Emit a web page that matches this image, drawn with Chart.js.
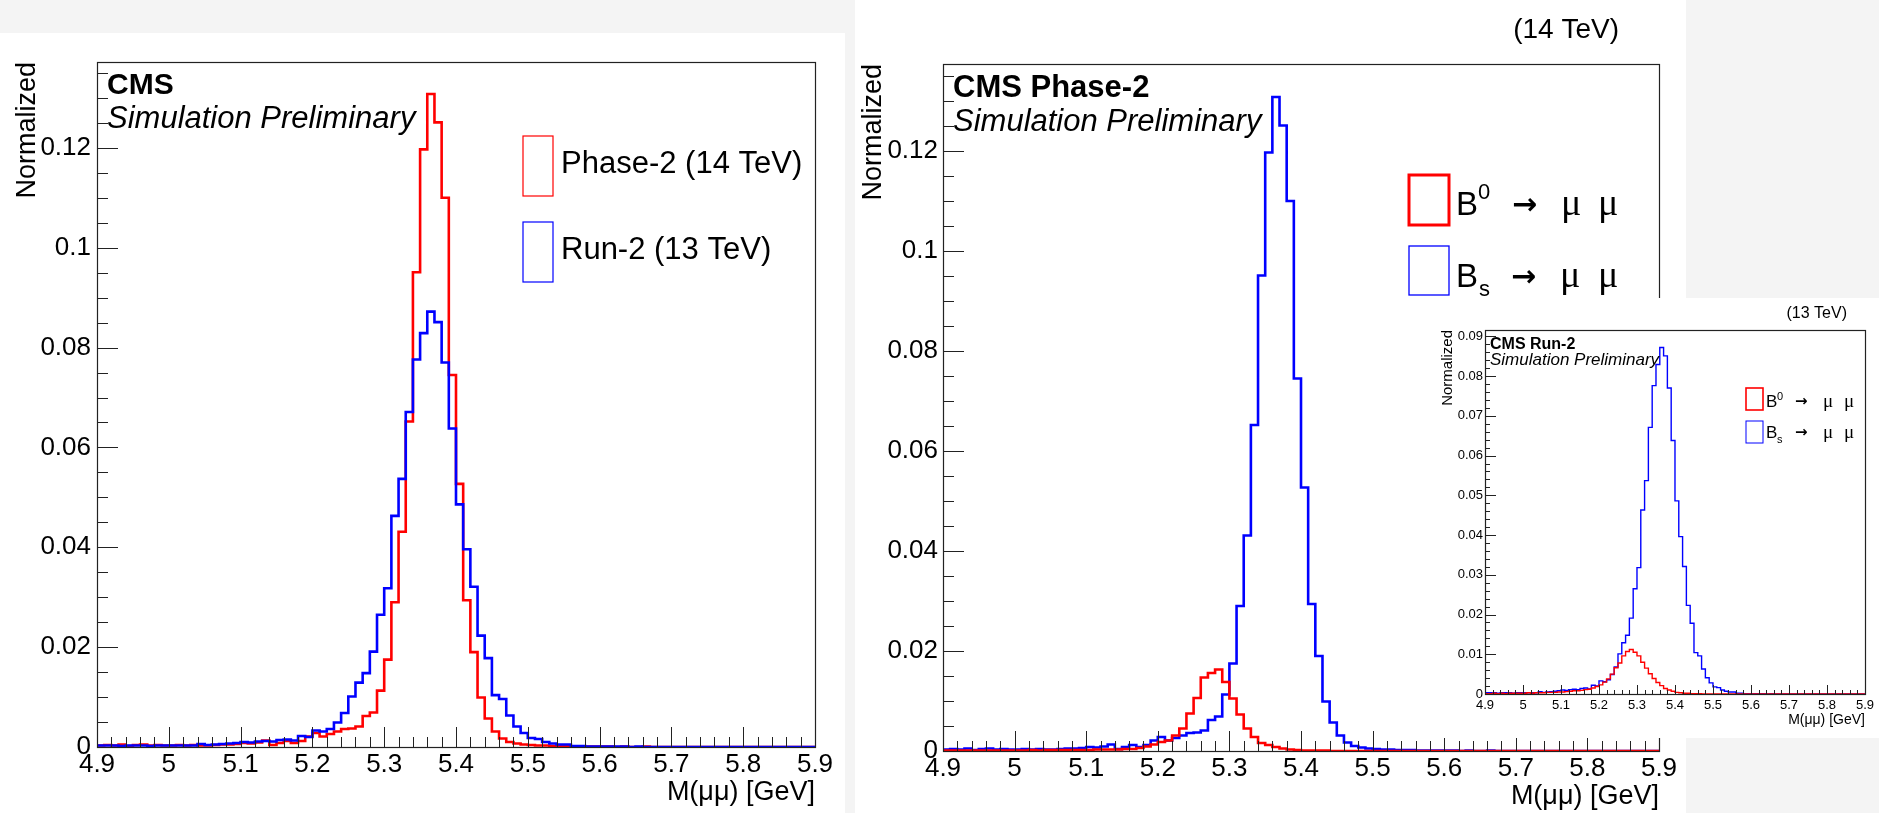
<!DOCTYPE html>
<html>
<head>
<meta charset="utf-8">
<script src="https://cdn.jsdelivr.net/npm/chart.js@4.4.1/dist/chart.umd.min.js"></script>
<style>
  html, body { margin: 0; padding: 0; }
  body { width: 1879px; height: 813px; background: #f4f4f4; position: relative; overflow: hidden; }
  .pad { position: absolute; background: #fff; }
  .pad canvas { display: block; }
</style>
</head>
<body>
<div class="pad" style="left:0;top:33px;width:845px;height:780px"><canvas id="c1" width="845" height="780"></canvas></div>
<div class="pad" style="left:855px;top:0;width:831px;height:813px"><canvas id="c2" width="831" height="813"></canvas></div>
<div class="pad" style="left:1395px;top:298px;width:484px;height:440px"><canvas id="c3" width="484" height="440"></canvas></div>
<script>
// binning: 100 bins of 0.01 GeV from 4.9 to 5.9
const xLow = 4.9;
const xHigh = 5.9;
const binWidth = 0.01;

// normalized M(mumu) histograms, one value per bin
const phase2Bs = [
  0.0003,0.0004,0.0003,0.0005,0.0002,0.0004,0.0005,0.0003,0.0004,0.0003,
  0.0003,0.0004,0.0003,0.0004,0.0003,0.0003,0.0004,0.0005,0.0005,0.0006,
  0.0008,0.0007,0.0009,0.0013,0.0004,0.0008,0.0012,0.0008,0.0012,0.0021,
  0.0028,0.0021,0.0026,0.0031,0.0036,0.0037,0.0041,0.0062,0.0069,0.0113,
  0.0175,0.0290,0.0431,0.0652,0.0951,0.1197,0.1308,0.1251,0.1100,0.0745,
  0.0527,0.0294,0.0190,0.0099,0.0057,0.0031,0.0017,0.0010,0.0007,0.0005,
  0.0004,0.0003,0.0003,0.0002,0.0002,0.0002,0.0001,0.0001,0.0001,0.0001,
  0.0001,0.0001,0,0.0001,0,0,0.0001,0,0,0,
  0,0,0,0,0,0,0,0,0,0,
  0,0,0,0,0,0,0,0,0,0
];
const run2Bs = [
  0.0003,0.0003,0.0003,0.0002,0.0003,0.0003,0.0003,0.0002,0.0003,0.0003,
  0.0003,0.0003,0.0003,0.0003,0.0006,0.0004,0.0005,0.0006,0.0007,0.0008,
  0.0010,0.0009,0.0011,0.0012,0.0011,0.0014,0.0015,0.0013,0.0022,0.0020,
  0.0033,0.0031,0.0036,0.0049,0.0068,0.0101,0.0129,0.0148,0.0191,0.0265,
  0.0318,0.0463,0.0537,0.0671,0.0776,0.0829,0.0872,0.0851,0.0770,0.0638,
  0.0486,0.0396,0.0321,0.0223,0.0178,0.0104,0.0096,0.0063,0.0041,0.0028,
  0.0018,0.0016,0.0010,0.0007,0.0005,0.0005,0.0002,0.0002,0.0001,0.0001,
  0.0001,0.0001,0.0001,0.0001,0,0.0001,0,0,0,0,
  0,0,0,0,0,0,0,0,0,0,
  0,0,0,0,0,0,0,0,0,0
];
const phase2B0 = [
  0.0001,0.0001,0.0001,0.0001,0.0001,0.0001,0.0001,0.0001,0.0001,0.0001,
  0.0001,0.0001,0.0002,0.0001,0.0002,0.0002,0.0002,0.0002,0.0002,0.0002,
  0.0002,0.0003,0.0003,0.0003,0.0003,0.0004,0.0004,0.0006,0.0009,0.0013,
  0.0018,0.0021,0.0031,0.0045,0.0075,0.0106,0.0147,0.0156,0.0163,0.0138,
  0.0105,0.0073,0.0045,0.0028,0.0016,0.0012,0.0008,0.0005,0.0003,0.0002,
  0.0001,0.0001,0.0001,0.0001,0,0,0,0,0,0,
  0,0,0,0,0,0,0,0,0,0,
  0,0,0,0,0,0,0,0,0,0,
  0,0,0,0,0,0,0,0,0,0,
  0,0,0,0,0,0,0,0,0,0
];
const run2B0 = [
  0.0001,0.0001,0.0002,0.0001,0.0002,0.0001,0.0002,0.0002,0.0002,0.0002,
  0.0002,0.0003,0.0002,0.0003,0.0003,0.0003,0.0004,0.0004,0.0004,0.0005,
  0.0005,0.0006,0.0007,0.0008,0.0008,0.0009,0.0011,0.0012,0.0015,0.0019,
  0.0023,0.0030,0.0038,0.0050,0.0066,0.0078,0.0096,0.0107,0.0112,0.0105,
  0.0096,0.0080,0.0065,0.0051,0.0039,0.0029,0.0021,0.0014,0.0010,0.0007,
  0.0004,0.0003,0.0002,0.0002,0.0001,0.0001,0.0001,0,0,0,
  0,0,0,0,0,0,0,0,0,0,
  0,0,0,0,0,0,0,0,0,0,
  0,0,0,0,0,0,0,0,0,0,
  0,0,0,0,0,0,0,0,0,0
];

const RED = '#ff0000';
const BLUE = '#0000ff';
const SANS = '"Liberation Sans", Arial, sans-serif';

// points at the bin edges, last value repeated at the upper edge
function histPoints(values) {
  let pts = values.map((v, i) => ({ x: +(xLow + i * binWidth).toFixed(2), y: v }));
  pts.push({ x: xHigh, y: values[values.length - 1] });
  return pts;
}

function fmt(v) {
  return v === 0 ? '0' : String(+v.toFixed(3));
}

// ROOT style: frame, inward ticks, and the text drawn over the pad
function rootPad(p) {
  return {
    id: 'rootPad',
    afterDraw(chart) {
      const ctx = chart.ctx;
      const a = chart.chartArea;
      const xs = chart.scales.x, ys = chart.scales.y;
      ctx.save();
      ctx.strokeStyle = '#222';
      ctx.lineWidth = 1;
      ctx.beginPath();
      let n = Math.round(ys.max / p.yMinor);
      for (let k = 1; k <= n; k++) {
        let v = k * p.yMinor;
        if (v > ys.max) break;
        let py = Math.round(ys.getPixelForValue(v)) + 0.5;
        let major = Math.abs(v / p.yMajor - Math.round(v / p.yMajor)) < 1e-6;
        ctx.moveTo(a.left, py);
        ctx.lineTo(a.left + (major ? p.majorLen : p.minorLen), py);
      }
      n = Math.round((xHigh - xLow) / 0.02);
      for (let k = 1; k < n; k++) {
        let v = xLow + k * 0.02;
        let px = Math.round(xs.getPixelForValue(v)) + 0.5;
        let major = k % 5 === 0;
        ctx.moveTo(px, a.bottom);
        ctx.lineTo(px, a.bottom - (major ? p.xMajorLen : p.xMinorLen));
      }
      ctx.stroke();
      ctx.lineWidth = 1.2;
      ctx.strokeRect(Math.round(a.left) + 0.5, Math.round(a.top) + 0.5,
                     Math.round(a.right - a.left), Math.round(a.bottom - a.top));

      // legend boxes
      p.boxes.forEach(b => {
        ctx.strokeStyle = b.color;
        ctx.lineWidth = b.lw;
        ctx.strokeRect(b.x, b.y, b.w, b.h);
      });
      // texts
      ctx.fillStyle = '#000';
      ctx.textBaseline = 'alphabetic';
      p.texts.forEach(t => {
        ctx.font = t.font;
        ctx.textAlign = t.align || 'left';
        ctx.fillText(t.t, t.x, t.y);
      });
      ctx.restore();
    }
  };
}

function drawHist(node, p) {
  return new Chart(document.getElementById(node), {
    type: 'line',
    data: {
      datasets: p.series.map(s => ({
        label: s.label,
        data: histPoints(s.values),
        borderColor: s.color,
        borderWidth: p.lw,
        stepped: 'before',
        pointRadius: 0,
        fill: false,
        tension: 0
      }))
    },
    options: {
      responsive: false,
      animation: false,
      devicePixelRatio: 1,
      layout: { padding: { top: p.area.top, right: p.area.right, left: 0, bottom: 0 } },
      plugins: { legend: { display: false }, tooltip: { enabled: false } },
      scales: {
        x: {
          type: 'linear', min: xLow, max: xHigh,
          afterFit: s => { s.height = p.area.xh; },
          grid: { display: false, drawTicks: false },
          border: { display: false },
          ticks: {
            stepSize: 0.1, autoSkip: false, maxRotation: 0, includeBounds: false,
            padding: p.xPad, color: '#000',
            font: { family: SANS, size: p.tickSize, lineHeight: 1 },
            callback: v => fmt(v)
          },
          title: {
            display: true, text: 'M(μμ) [GeV]', align: 'end', color: '#000',
            font: { family: SANS, size: p.xTitleSize, lineHeight: 1 },
            padding: { top: 0, bottom: p.xTitlePad }
          }
        },
        y: {
          min: 0, max: p.yMax,
          afterFit: s => { s.width = p.area.yw; },
          grid: { display: false, drawTicks: false },
          border: { display: false },
          ticks: {
            stepSize: p.yMajor, autoSkip: false, includeBounds: false,
            padding: p.yPad, color: '#000',
            font: { family: SANS, size: p.tickSize, lineHeight: 1 },
            callback: v => fmt(v)
          },
          title: {
            display: true, text: 'Normalized', align: 'end', color: '#000',
            font: { family: SANS, size: p.yTitleSize, lineHeight: 1 },
            padding: { top: p.yTitlePad, bottom: 0 }
          }
        }
      }
    },
    plugins: [rootPad(p)]
  });
}

// left: Phase-2 vs Run-2, Bs -> mumu
drawHist('c1', {
  series: [
    { label: 'Run-2 (13 TeV)', values: run2Bs, color: BLUE },
    { label: 'Phase-2 (14 TeV)', values: phase2Bs, color: RED }
  ],
  lw: 2.6, yMax: 0.1372, yMajor: 0.02, yMinor: 0.005,
  area: { top: 29, right: 30, xh: 66, yw: 97 },
  majorLen: 21, minorLen: 11, xMajorLen: 20, xMinorLen: 10,
  tickSize: 26, xPad: 5, yPad: 6,
  xTitleSize: 27, xTitlePad: 7, yTitleSize: 27, yTitlePad: 14,
  boxes: [
    { x: 523, y: 103, w: 30, h: 60, color: RED, lw: 1.2 },
    { x: 523, y: 189, w: 30, h: 60, color: BLUE, lw: 1.2 }
  ],
  texts: [
    { t: 'CMS', x: 107, y: 61, font: 'bold 30px ' + SANS },
    { t: 'Simulation Preliminary', x: 107, y: 95, font: 'italic 31px ' + SANS },
    { t: 'Phase-2 (14 TeV)', x: 561, y: 140, font: '31px ' + SANS },
    { t: 'Run-2 (13 TeV)', x: 561, y: 226, font: '31px ' + SANS }
  ]
});

// middle: Phase-2, B0 and Bs
drawHist('c2', {
  series: [
    { label: 'B0 → μμ', values: phase2B0, color: RED },
    { label: 'Bs → μμ', values: phase2Bs, color: BLUE }
  ],
  lw: 2.6, yMax: 0.1374, yMajor: 0.02, yMinor: 0.005,
  area: { top: 64, right: 27, xh: 62, yw: 88 },
  majorLen: 21, minorLen: 11, xMajorLen: 20, xMinorLen: 10,
  tickSize: 26, xPad: 5, yPad: 5,
  xTitleSize: 27, xTitlePad: 3, yTitleSize: 27, yTitlePad: 5,
  boxes: [
    { x: 554, y: 175, w: 40, h: 50, color: RED, lw: 3 },
    { x: 554, y: 246, w: 40, h: 49, color: BLUE, lw: 1.3 }
  ],
  texts: [
    { t: '(14 TeV)', x: 764, y: 38, font: '28px ' + SANS, align: 'right' },
    { t: 'CMS Phase-2', x: 98, y: 97, font: 'bold 31px ' + SANS },
    { t: 'Simulation Preliminary', x: 98, y: 131, font: 'italic 31px ' + SANS },
    { t: 'B', x: 601, y: 215, font: '33px ' + SANS },
    { t: '0', x: 623, y: 199, font: '22px ' + SANS },
    { t: '→', x: 657, y: 214, font: 'bold 30px "DejaVu Sans"' },
    { t: 'μ', x: 706, y: 215, font: '38px "Liberation Serif"' },
    { t: 'μ', x: 743, y: 215, font: '38px "Liberation Serif"' },
    { t: 'B', x: 601, y: 287, font: '33px ' + SANS },
    { t: 's', x: 624, y: 296, font: '22px ' + SANS },
    { t: '→', x: 656, y: 286, font: 'bold 30px "DejaVu Sans"' },
    { t: 'μ', x: 705, y: 287, font: '38px "Liberation Serif"' },
    { t: 'μ', x: 743, y: 287, font: '38px "Liberation Serif"' }
  ]
});

// inset: Run-2, B0 and Bs
drawHist('c3', {
  series: [
    { label: 'B0 → μμ', values: run2B0, color: RED },
    { label: 'Bs → μμ', values: run2Bs, color: BLUE }
  ],
  lw: 1.4, yMax: 0.0916, yMajor: 0.01, yMinor: 0.002,
  area: { top: 32, right: 10, xh: 44, yw: 90 },
  majorLen: 11, minorLen: 5, xMajorLen: 9, xMinorLen: 4,
  tickSize: 13, xPad: 5, yPad: 2,
  xTitleSize: 14, xTitlePad: 11, yTitleSize: 15, yTitlePad: 45,
  boxes: [
    { x: 351, y: 90, w: 17, h: 22, color: RED, lw: 1.6 },
    { x: 351, y: 123, w: 17, h: 22, color: BLUE, lw: 1 }
  ],
  texts: [
    { t: '(13 TeV)', x: 452, y: 20, font: '16px ' + SANS, align: 'right' },
    { t: 'CMS Run-2', x: 95, y: 51, font: 'bold 16px ' + SANS },
    { t: 'Simulation Preliminary', x: 95, y: 67, font: 'italic 17px ' + SANS },
    { t: 'B', x: 371, y: 109, font: '17px ' + SANS },
    { t: '0', x: 382, y: 102, font: '11px ' + SANS },
    { t: '→', x: 400, y: 108, font: 'bold 15px "DejaVu Sans"' },
    { t: 'μ', x: 428, y: 109, font: '19px "Liberation Serif"' },
    { t: 'μ', x: 449, y: 109, font: '19px "Liberation Serif"' },
    { t: 'B', x: 371, y: 140, font: '17px ' + SANS },
    { t: 's', x: 382, y: 145, font: '11px ' + SANS },
    { t: '→', x: 400, y: 139, font: 'bold 15px "DejaVu Sans"' },
    { t: 'μ', x: 428, y: 140, font: '19px "Liberation Serif"' },
    { t: 'μ', x: 449, y: 140, font: '19px "Liberation Serif"' }
  ]
});
</script>
</body>
</html>
